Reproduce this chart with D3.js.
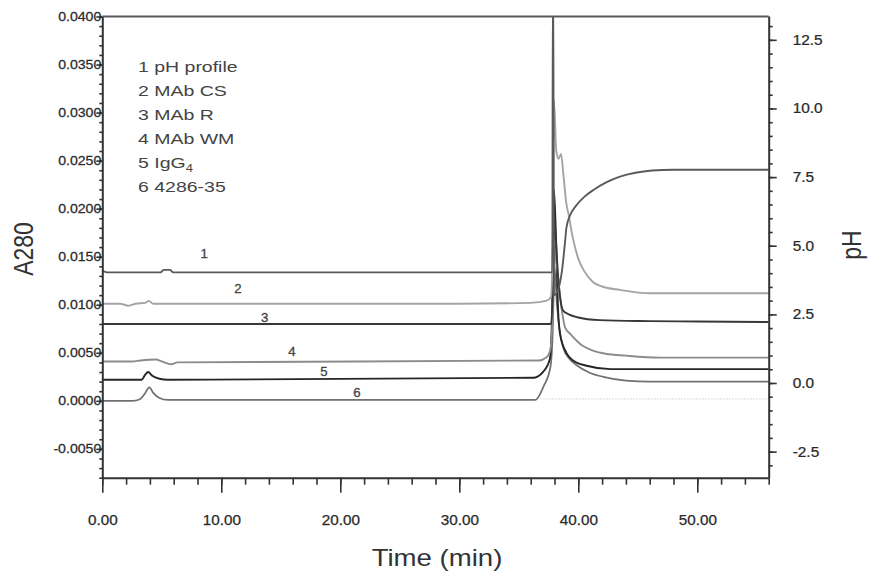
<!DOCTYPE html>
<html><head><meta charset="utf-8">
<script src="https://cdn.jsdelivr.net/npm/d3@7"></script>
<style>
body{margin:0;background:#fff}
svg{display:block}
text{font-family:"Liberation Sans",Arial,sans-serif}
</style>
</head><body>
<svg id="chart" width="870" height="576"></svg>
<script>
// ---------- DATA (time in min, A280 in AU, pH in pH units) ----------
const legendLabels = ["1 pH profile", "2 MAb CS", "3 MAb R", "4 MAb WM", "5 IgG", "6 4286-35"];
const timeTicks = [0, 10, 20, 30, 40, 50];
const a280Ticks = [-0.005, 0, 0.005, 0.010, 0.015, 0.020, 0.025, 0.030, 0.035, 0.040];
const phTicks = [-2.5, 0, 2.5, 5, 7.5, 10, 12.5];

// 1 pH profile (right axis, pH)
const phProfile = [[0,4.1],[0.4,4.03],[4.9,4.03],[5.15,4.12],[5.7,4.12],[5.95,4.03],[37.82,4.03],[37.86,14.5],[37.9,14.5],
  [37.95,3.2],[38.3,3.4],[38.6,4.0],[38.9,5.2],[39.0,5.65],[39.3,6.1],[39.8,6.45],[40.5,6.78],[41.3,7.04],[42.3,7.3],
  [43.5,7.52],[44.8,7.66],[46.2,7.74],[48,7.77],[56,7.77]];
// 2 MAb CS
const mabCS = [[0,0.0101],[1.5,0.0101],[2.2,0.0099],[2.8,0.0101],[3.6,0.0102],[3.9,0.0104],[4.3,0.0101],[30,0.0101],
  [36,0.0102],[37.3,0.0104],[37.7,0.0108],[37.85,0.016],[37.96,0.0312],[38.15,0.026],[38.35,0.0252],[38.55,0.0257],
  [38.75,0.0235],[39.0,0.0205],[39.2,0.0193],[39.5,0.0172],[40.0,0.0148],[40.5,0.0135],[41.2,0.0124],[42,0.0119],
  [43.5,0.01155],[46,0.0112],[56,0.0112]];
// 3 MAb R
const mabR = [[0,0.0080],[37.7,0.0080],[37.85,0.011],[37.97,0.019],[38.1,0.017],[38.3,0.013],[38.5,0.0105],[38.72,0.0094],
  [39.2,0.0090],[39.9,0.0087],[41.8,0.0084],[46,0.0083],[50,0.00825],[56,0.0082]];
// 4 MAb WM
const mabWM = [[0,0.0041],[2.5,0.0041],[3.2,0.0042],[4.5,0.0043],[5.0,0.0041],[5.8,0.0038],[6.3,0.0040],[36.7,0.0042],
  [37.3,0.0045],[37.65,0.0053],[37.85,0.009],[38.0,0.016],[38.2,0.014],[38.5,0.0105],[38.9,0.0076],[39.3,0.0070],
  [40.4,0.0057],[41.3,0.0052],[42.3,0.0049],[44,0.0047],[46.8,0.0045],[56,0.0045]];
// 5 IgG4
const igG4 = [[0,0.0022],[3.3,0.0022],[3.6,0.0027],[3.85,0.0030],[4.2,0.0026],[4.8,0.0023],[5.5,0.0022],[36.2,0.0024],
  [37.03,0.0030],[37.6,0.0043],[37.8,0.009],[37.95,0.022],[38.1,0.018],[38.3,0.0095],[38.46,0.0070],[39.0,0.0050],
  [39.56,0.0042],[40.7,0.00365],[42.7,0.0033],[56,0.0033]];
// 6 4286-35
const s428635 = [[0,0.0000],[2.5,0.0000],[3.2,0.0002],[3.6,0.0008],[3.95,0.0014],[4.3,0.0008],[4.8,0.0003],[5.5,0.0001],
  [36.4,0.0001],[37.08,0.0015],[37.67,0.0036],[37.85,0.007],[38.0,0.014],[38.2,0.010],[38.5,0.0068],[38.74,0.0055],
  [39.3,0.0043],[39.86,0.0037],[41,0.0029],[42.1,0.0025],[44,0.0021],[46,0.0020],[56,0.0020]];
// faint baseline trace
const baselineTrace = [[36.8,0.0002],[56,0.0002]];

// in-plot curve numbers (time, A280)
const curveNums = ["1","2","3","4","5","6"];
const curveNumTime = [8.55, 11.4, 13.64, 15.94, 18.63, 21.4];
const curveNumA280 = [0.0153, 0.0117, 0.0086, 0.0051, 0.0030, 0.0008];

// ---------- CHART ----------
const svg = d3.select("#chart");
const x = d3.scaleLinear().domain([0, 56]).range([102.3, 768.7]);
const yA = d3.scaleLinear().domain([-0.008, 0.04]).range([477.7, 16.5]);
const yP = d3.scaleLinear().domain([-3.45, 13.35]).range([477.7, 16.5]);

svg.append("defs").append("clipPath").attr("id","plot")
  .append("rect").attr("x", x(0)).attr("y", yA(0.04)).attr("width", x(56)-x(0)).attr("height", yA(-0.008)-yA(0.04));

const series = [
  {data: phProfile, y: yP, color: "#5a5a5a", w: 1.9},
  {data: mabCS, y: yA, color: "#a4a4a4", w: 1.9},
  {data: mabR, y: yA, color: "#383838", w: 1.9},
  {data: mabWM, y: yA, color: "#8c8c8c", w: 1.9},
  {data: igG4, y: yA, color: "#262626", w: 1.9},
  {data: s428635, y: yA, color: "#707070", w: 1.7}
];

const plot = svg.append("g").attr("clip-path","url(#plot)");
plot.append("path").datum(baselineTrace)
  .attr("d", d3.line().x(d=>x(d[0])).y(d=>yA(d[1])))
  .attr("fill","none").attr("stroke","#d0d0d0").attr("stroke-width",1).attr("stroke-dasharray","1.5,1.5");

series.slice().reverse().forEach(s => {
  plot.append("path").datum(s.data)
    .attr("d", d3.line().curve(d3.curveMonotoneX).x(d=>x(d[0])).y(d=>s.y(d[1])))
    .attr("fill","none").attr("stroke", s.color).attr("stroke-width", s.w).attr("stroke-linejoin","round");
});

// top frame line
svg.append("line").attr("x1", x(0)).attr("x2", x(56)).attr("y1", yA(0.04)).attr("y2", yA(0.04))
  .attr("stroke","#5a5a5a").attr("stroke-width",2.2);

function stretch(sel, sx){
  sel.each(function(){
    const t = d3.select(this);
    const x0 = +t.attr("x") || 0;
    t.attr("x", x0/sx).attr("transform", `scale(${sx},1)`);
  });
}
function styleAxis(g, withDomain){
  g.select(".domain").attr("stroke", withDomain ? "#333" : "none").attr("stroke-width", 2);
  g.selectAll(".tick line").attr("stroke","#333").attr("stroke-width",1.6);
  g.selectAll("text").attr("fill","#2a2a2a").attr("stroke","#2a2a2a").attr("stroke-width",0.25)
    .attr("font-family",'"Liberation Sans",Arial,sans-serif');
}
const hy = s => s.replace("\u2212","-");

// left axis
const gLm = svg.append("g").attr("transform",`translate(${x(0)},0)`)
  .call(d3.axisLeft(yA).tickValues(d3.range(-8, 41).map(v=>v/1000)).tickSize(3).tickSizeOuter(0).tickFormat(""));
styleAxis(gLm, false);
const gL = svg.append("g").attr("transform",`translate(${x(0)},0)`)
  .call(d3.axisLeft(yA).tickValues(a280Ticks).tickSize(6).tickSizeOuter(0).tickFormat(d=>hy(d3.format(".4f")(d))));
styleAxis(gL, true);
gL.selectAll("text").attr("font-size", 12.5).attr("x", -1);
stretch(gL.selectAll("text"), 1.13);

// bottom axis
const gBm = svg.append("g").attr("transform",`translate(0,${yA(-0.008)})`)
  .call(d3.axisBottom(x).tickValues(d3.range(0, 57, 2)).tickSize(7).tickSizeOuter(0).tickFormat(""));
styleAxis(gBm, false);
const gB = svg.append("g").attr("transform",`translate(0,${yA(-0.008)})`)
  .call(d3.axisBottom(x).tickValues(timeTicks).tickSize(15).tickSizeOuter(0).tickFormat(d3.format(".2f")));
styleAxis(gB, true);
gB.selectAll("text").attr("font-size", 14).attr("y", 37.5);
stretch(gB.selectAll("text"), 1.09);

// right axis
const gRm = svg.append("g").attr("transform",`translate(${x(56)},0)`)
  .call(d3.axisRight(yP).tickValues(d3.range(-6, 27).map(v=>v/2)).tickSize(4).tickSizeOuter(0).tickFormat(""));
styleAxis(gRm, false);
const gR = svg.append("g").attr("transform",`translate(${x(56)},0)`)
  .call(d3.axisRight(yP).tickValues(phTicks).tickSize(8).tickSizeOuter(0).tickFormat(d=>hy(d3.format(".1f")(d))));
styleAxis(gR, true);
gR.select(".domain").attr("d", `M0.5,${yA(-0.008)}V${yA(0.04)}`);
gR.selectAll("text").attr("font-size", 14).attr("x", 24);
stretch(gR.selectAll("text"), 1.1);

// axis titles
svg.append("text").attr("transform",`translate(437,566) scale(1.2,1)`).attr("text-anchor","middle")
  .attr("font-size",23).attr("fill","#333").text("Time (min)");
svg.append("text").attr("transform",`translate(33,249) scale(1.2,1) rotate(-90)`).attr("text-anchor","middle")
  .attr("font-size",23).attr("fill","#333").text("A280");
svg.append("text").attr("transform",`translate(861,245) scale(1.2,1) rotate(-90)`).attr("text-anchor","middle")
  .attr("font-size",23).attr("fill","#333").text("pH");

// legend
const leg = svg.append("g");
legendLabels.forEach((lab, i) => {
  const t = leg.append("text").attr("transform",`translate(138,${71.5 + 24*i}) scale(1.3,1)`)
    .attr("font-size",15).attr("fill","#444").text(lab);
  if (i === 4) t.append("tspan").attr("font-size",10).attr("dy",4).text("4");
});

// curve numbers
curveNums.forEach((n, i) => {
  svg.append("text").attr("transform",`translate(${x(curveNumTime[i])},${yA(curveNumA280[i])}) scale(1.1,1)`)
    .attr("text-anchor","middle").attr("dy","0.35em").attr("font-size",12).attr("fill","#444")
    .attr("stroke","#444").attr("stroke-width",0.3).text(n);
});
</script>
</body></html>
